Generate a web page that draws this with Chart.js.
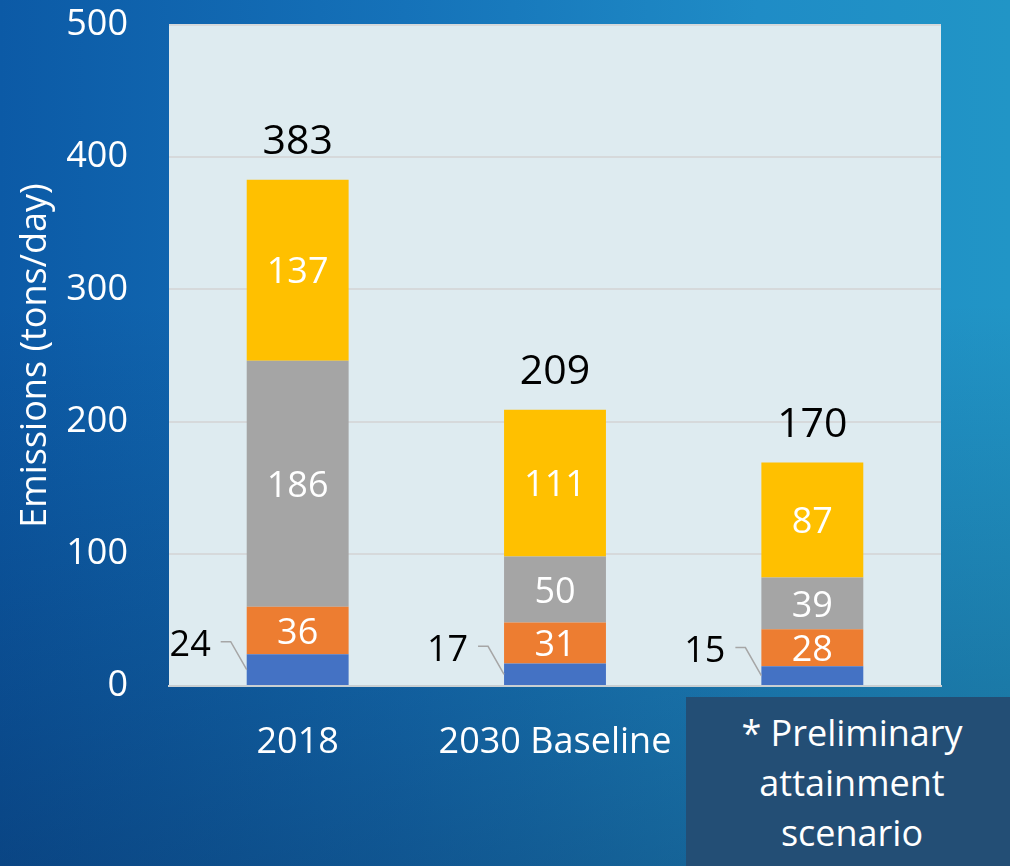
<!DOCTYPE html>
<html>
<head>
<meta charset="utf-8">
<script src="https://cdn.jsdelivr.net/npm/chart.js@4"></script>
<style>
  html, body { margin: 0; padding: 0; }
  body {
    width: 1010px; height: 866px; overflow: hidden; position: relative;
    background:
      linear-gradient(to bottom, rgba(5,25,60,0) 35%, rgba(5,25,60,0.32) 100%),
      linear-gradient(to right, #0c5aa6 0%, #1572b9 40%, #1f8cc6 75%, #2195c6 100%);
    font-family: "Open Sans", sans-serif;
  }
  #wrap { position: absolute; left: 0; top: 0; width: 1010px; height: 866px; }
  #note {
    position: absolute; left: 686px; top: 697px; width: 324px; height: 169px;
    background: #234e75; color: #ffffff; font-size: 36px; line-height: 50px;
    text-align: center; box-sizing: border-box; padding-top: 11px; padding-left: 8px;
  }
</style>
</head>
<body>
<div id="wrap"><canvas id="c" width="1010" height="866"></canvas></div>
<div id="note">* Preliminary<br>attainment<br>scenario</div>
<script>
const categories = ['2018', '2030 Baseline', '* Preliminary attainment scenario'];
const seriesBlue   = [24, 17, 15];
const seriesOrange = [36, 31, 28];
const seriesGray   = [186, 50, 39];
const seriesYellow = [137, 111, 87];
const totals       = [383, 209, 170];
const yTicks       = [0, 100, 200, 300, 400, 500];

const FONT = '"Open Sans", sans-serif';

const plotBg = {
  id: 'plotBg',
  beforeDraw(chart) {
    const { ctx, chartArea: a } = chart;
    ctx.save();
    ctx.fillStyle = '#deebf0';
    ctx.fillRect(a.left, a.top, a.right - a.left, a.bottom - a.top);
    ctx.restore();
  }
};

const labels = {
  id: 'labels',
  afterDatasetsDraw(chart) {
    const ctx = chart.ctx;
    ctx.save();
    ctx.textBaseline = 'middle';
    chart.data.datasets.forEach((ds, i) => {
      const meta = chart.getDatasetMeta(i);
      meta.data.forEach((bar, j) => {
        const cy = (bar.y + bar.base) / 2;
        const left = bar.x - bar.width / 2;
        if (i === 0) {
          const ly = cy - 28;
          ctx.strokeStyle = '#a6a6a6';
          ctx.lineWidth = 1.5;
          ctx.beginPath();
          ctx.moveTo(left - 26, ly);
          ctx.lineTo(left - 16, ly);
          ctx.lineTo(left, cy);
          ctx.stroke();
          ctx.fillStyle = '#000000';
          ctx.font = '36px ' + FONT;
          ctx.textAlign = 'right';
          ctx.fillText(String(ds.data[j]), left - 36, ly + 4);
        } else {
          ctx.fillStyle = '#ffffff';
          ctx.font = '36px ' + FONT;
          ctx.textAlign = 'center';
          ctx.fillText(String(ds.data[j]), bar.x, cy + 3);
        }
      });
    });
    const topMeta = chart.getDatasetMeta(chart.data.datasets.length - 1);
    topMeta.data.forEach((bar, j) => {
      ctx.fillStyle = '#000000';
      ctx.font = '41px ' + FONT;
      ctx.textAlign = 'center';
      ctx.fillText(String(totals[j]), bar.x, bar.y - 37);
    });
    ctx.restore();
  }
};

const mk = (label, data, color) => ({
  label, data, backgroundColor: color, borderWidth: 0,
  categoryPercentage: 1.0, barPercentage: 0.396
});

new Chart(document.getElementById('c'), {
  type: 'bar',
  data: {
    labels: categories,
    datasets: [
      mk('Blue', seriesBlue, '#4472c4'),
      mk('Orange', seriesOrange, '#ed7d31'),
      mk('Gray', seriesGray, '#a5a5a5'),
      mk('Yellow', seriesYellow, '#ffc000')
    ]
  },
  options: {
    responsive: false,
    animation: false,
    layout: { padding: { left: 0, right: 69, top: 25, bottom: 0 } },
    plugins: { legend: { display: false }, tooltip: { enabled: false } },
    scales: {
      x: {
        stacked: true,
        grid: { display: false, drawTicks: false },
        border: { display: true, color: '#c9cfd2', width: 2 },
        ticks: {
          color: '#ffffff', font: { family: FONT, size: 36 }, padding: 35,
          maxRotation: 0, autoSkip: false,
          callback: (v, i) => (i === 2 ? '' : categories[i])
        },
        afterFit(s) { s.height = 180; s.paddingLeft = 0; s.paddingRight = 0; }
      },
      y: {
        stacked: true, min: 0, max: 500,
        afterBuildTicks(s) { s.ticks = yTicks.map(v => ({ value: v })); },
        grid: { color: '#d6d9db', lineWidth: 2, drawTicks: false },
        border: { display: false },
        ticks: { color: '#ffffff', font: { family: FONT, size: 36 }, padding: 41 },
        title: {
          display: true, text: 'Emissions (tons/day)', color: '#ffffff',
          font: { family: FONT, size: 36 }, padding: { top: 14, bottom: 0 }
        },
        afterFit(s) { s.width = 169; s.paddingTop = 0; s.paddingBottom = 0; }
      }
    }
  },
  plugins: [plotBg, labels]
});
</script>
</body>
</html>
